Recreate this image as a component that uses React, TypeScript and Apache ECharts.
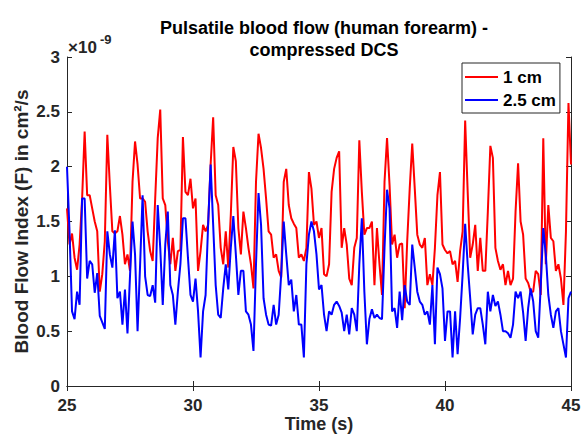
import React, { useEffect, useRef } from "react";
import * as echarts from "echarts";

const T_START = 25;
const T_STEP = 0.1;

const red1cm = [
  1.62, 1.29, 1.39, 1.17, 1.06, 1.29, 1.71, 2.32, 1.74, 1.74,
  1.62, 1.5, 1.41, 0.86, 1.02, 1.32, 2.29, 1.83, 1.41, 1.39,
  1.41, 1.55, 1.38, 1.11, 1.2, 1.05, 1.86, 2.23, 2.02, 1.71,
  1.71, 1.68, 1.41, 1.23, 1.14, 1.71, 2.26, 2.52, 1.71, 1.65,
  1.32, 1.11, 1.35, 1.05, 1.23, 1.24, 2.27, 1.77, 1.74, 1.89,
  1.62, 1.71, 1.05, 1.23, 1.47, 1.41, 1.47, 2.02, 2.45, 1.74,
  1.65, 1.26, 1.11, 1.41, 1.08, 1.56, 2.18, 2.05, 1.44, 1.2,
  1.59, 1.44, 1.26, 1.11, 0.89, 1.86, 2.3, 2.17, 1.98, 1.71,
  1.41, 1.38, 1.17, 1.2, 1.05, 0.99, 1.86, 1.98, 1.65, 1.53,
  1.48, 1.44, 1.17, 1.2, 1.14, 1.26, 1.95, 1.8, 1.47, 1.5,
  1.35, 1.44, 1.02, 1.0, 1.11, 1.77, 1.98, 2.08, 2.14, 1.26,
  1.44, 1.29, 0.98, 0.92, 1.26, 1.35, 2.24, 1.77, 1.38, 1.44,
  1.44, 1.5, 0.92, 1.44, 1.11, 0.83, 1.86, 2.26, 1.83, 1.29,
  1.38, 1.17, 1.29, 1.3, 0.71, 1.32, 1.8, 2.21, 1.8, 1.38,
  1.29, 1.26, 1.35, 0.92, 1.02, 0.92, 1.26, 1.74, 1.95, 1.29,
  1.24, 1.21, 1.23, 1.11, 1.14, 0.95, 1.23, 1.41, 2.42, 1.77,
  1.17, 1.29, 1.47, 1.05, 1.35, 1.05, 1.05, 1.59, 2.19, 2.08,
  1.26, 1.14, 1.06, 1.11, 0.92, 1.05, 0.92, 0.98, 1.59, 2.03,
  1.5, 1.38, 0.98, 0.94, 0.86, 0.86, 1.05, 1.02, 0.83, 2.26,
  1.11, 1.65, 1.35, 1.32, 1.05, 1.11, 0.98, 0.74, 1.41, 2.58,
  2.02,
];

const blue25cm = [
  2.0, 1.41, 0.68, 0.61, 0.86, 0.74, 1.71, 1.71, 0.98, 1.14,
  1.11, 0.85, 1.03, 0.64, 0.58, 0.52, 1.41, 1.2, 1.08, 1.42,
  0.8, 0.86, 0.56, 0.88, 0.48, 1.0, 1.5, 1.2, 0.5, 1.1,
  1.74, 1.0, 0.83, 0.82, 0.92, 0.76, 1.65, 1.26, 0.74, 1.29,
  1.59, 0.92, 0.83, 0.56, 0.86, 1.11, 1.53, 1.53, 1.17, 0.83,
  0.77, 0.98, 0.68, 0.26, 0.68, 0.83, 1.47, 2.02, 1.47, 0.92,
  0.65, 0.62, 0.89, 1.11, 0.88, 1.26, 1.55, 1.2, 0.83, 1.05,
  1.05, 0.68, 0.65, 0.56, 0.32, 1.11, 1.76, 1.47, 0.8, 0.65,
  0.56, 0.55, 0.74, 0.56, 0.65, 1.02, 1.5, 1.2, 0.92, 0.97,
  0.68, 0.83, 0.56, 0.56, 0.26, 1.11, 1.38, 1.5, 1.41, 1.2,
  0.88, 0.92, 0.65, 0.5, 0.68, 0.65, 0.74, 0.77, 0.73, 0.67,
  0.5, 0.65, 0.47, 0.71, 0.65, 0.5, 1.11, 1.53, 0.86, 0.38,
  0.61, 0.7, 0.62, 0.65, 0.62, 0.61, 1.26, 1.79, 1.62, 0.68,
  0.71, 0.53, 0.86, 0.6, 0.92, 0.77, 0.74, 1.29, 1.08, 0.86,
  0.77, 0.74, 0.65, 0.68, 0.56, 0.92, 0.38, 1.08, 1.02, 0.89,
  0.41, 0.68, 0.68, 0.26, 0.68, 0.29, 0.62, 1.02, 1.48, 1.11,
  0.8, 0.47, 0.65, 0.71, 0.71, 0.56, 0.38, 0.86, 0.68, 0.83,
  0.73, 0.77, 0.65, 0.5, 0.5, 0.48, 0.44, 0.56, 0.86, 0.8,
  0.86, 0.67, 0.41, 0.71, 0.89, 0.77, 0.5, 0.44, 0.92, 1.44,
  1.2, 0.83, 0.65, 0.53, 0.68, 0.71, 0.5, 0.38, 0.26, 0.8,
  0.86,
];

const seriesNames = ["1 cm", "2.5 cm"];
const titleText = "Pulsatile blood flow (human forearm) -\ncompressed DCS";
const xName = "Time (s)";
const yName = "Blood Flow Index (F) in cm²/s";

const FONT = "'Liberation Sans', Arial, Helvetica, sans-serif";
const AX = "#262626";

export default function App() {
  const ref = useRef<HTMLDivElement>(null);
  useEffect(() => {
    const chart = echarts.init(ref.current!, null, { renderer: "svg" });
    const times = red1cm.map((_, i) => Math.round((T_START + i * T_STEP) * 10) / 10);
    const redData = red1cm.map((v, i) => [times[i], v]);
    const blueData = blue25cm.map((v, i) => [times[i], v]);

    const lineAx = { lineStyle: { color: AX, width: 1 } };
    const tickAx = { inside: true, length: 5, lineStyle: { color: AX, width: 1 } };
    const labelStyle = {
      color: AX,
      fontSize: 17,
      fontWeight: "bold" as const,
      fontFamily: FONT,
    };

    chart.setOption({
      animation: false,
      backgroundColor: "#fff",
      title: {
        text: titleText,
        left: 319,
        top: 12,
        textAlign: "center",
        textStyle: {
          fontSize: 18,
          fontWeight: "bold",
          color: "#000",
          fontFamily: FONT,
          lineHeight: 22,
        },
      },
      grid: {
        left: 67,
        right: 11,
        top: 57,
        bottom: 48,
        containLabel: false,
        outerBoundsMode: "none",
      },
      legend: {
        data: seriesNames,
        orient: "vertical",
        left: 462,
        top: 63,
        backgroundColor: "#fff",
        borderColor: "#262626",
        borderWidth: 1,
        borderRadius: 0,
        padding: [4, 4, 3, 3],
        itemGap: 3,
        itemWidth: 33,
        itemHeight: 2,
        icon: "rect",
        textStyle: { ...labelStyle, color: "#000", lineHeight: 20 },
      },
      xAxis: [
        {
          type: "value",
          min: 25,
          max: 45,
          interval: 5,
          position: "bottom",
          axisLine: { show: true, ...lineAx },
          axisTick: tickAx,
          axisLabel: { ...labelStyle, margin: 11, lineHeight: 17 },
          splitLine: { show: false },
          name: xName,
          nameLocation: "middle",
          nameGap: 29,
          nameMoveOverlap: false,
          nameTextStyle: { ...labelStyle, fontSize: 18, lineHeight: 18 },
        },
        {
          type: "value",
          min: 25,
          max: 45,
          interval: 5,
          position: "top",
          axisLine: { show: true, ...lineAx },
          axisTick: tickAx,
          axisLabel: { show: false },
          splitLine: { show: false },
        },
      ],
      yAxis: [
        {
          type: "value",
          min: 0,
          max: 3,
          interval: 0.5,
          position: "left",
          axisLine: { show: true, ...lineAx },
          axisTick: tickAx,
          axisLabel: { ...labelStyle, margin: 7 },
          splitLine: { show: false },
          name: yName,
          nameLocation: "middle",
          nameGap: 36,
          nameMoveOverlap: false,
          nameTextStyle: { ...labelStyle, fontSize: 19 },
        },
        {
          type: "value",
          min: 0,
          max: 3,
          interval: 0.5,
          position: "right",
          axisLine: { show: true, ...lineAx },
          axisTick: tickAx,
          axisLabel: { show: false },
          splitLine: { show: false },
        },
      ],
      graphic: [
        {
          type: "text",
          left: 68,
          top: 39,
          style: {
            text: "×10",
            fontSize: 17,
            fontWeight: "bold",
            fontFamily: FONT,
            fill: AX,
          },
        },
        {
          type: "text",
          left: 100,
          top: 33,
          style: {
            text: "-9",
            fontSize: 13,
            fontWeight: "bold",
            fontFamily: FONT,
            fill: AX,
          },
        },
      ],
      series: [
        {
          name: seriesNames[0],
          type: "line",
          data: redData,
          showSymbol: false,
          symbol: "none",
          lineStyle: { color: "#ff0000", width: 2 },
          itemStyle: { color: "#ff0000" },
          z: 2,
        },
        {
          name: seriesNames[1],
          type: "line",
          data: blueData,
          showSymbol: false,
          symbol: "none",
          lineStyle: { color: "#0000ff", width: 2 },
          itemStyle: { color: "#0000ff" },
          z: 3,
        },
      ],
    });
    return () => chart.dispose();
  }, []);
  return (
    <div
      ref={ref}
      style={{ position: "fixed", left: 0, top: 0, width: 582, height: 434, background: "#fff" }}
    />
  );
}
